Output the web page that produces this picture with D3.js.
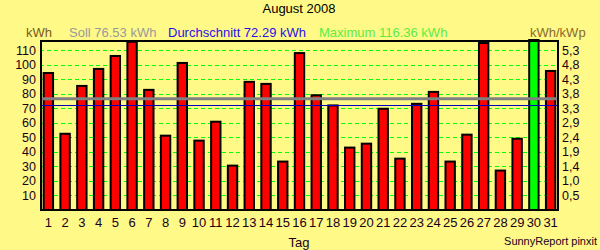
<!DOCTYPE html>
<html>
<head>
<meta charset="utf-8">
<script src="https://cdn.jsdelivr.net/npm/d3@7"></script>
<style>
  html, body { margin: 0; padding: 0; background: #FFF987; }
  svg { display: block; font-family: "Liberation Sans", Arial, sans-serif; }
</style>
</head>
<body>
<div id="chart"></div>
<script>
// Tagesertrag August 2008 (kWh), Tag 30 = grüner Balken
const days = d3.range(1, 32);
const dailyKwh = [94.9, 53.1, 86.0, 97.7, 106.6, 116.36, 83.3, 51.8, 101.8, 48.4,
                  61.4, 31.2, 88.8, 87.4, 34.0, 108.6, 79.6, 72.6, 43.6, 46.3,
                  70.3, 36.0, 73.7, 81.9, 34.0, 52.5, 115.5, 27.8, 49.7, null, 96.3];
const highlightDay = 30;
const leftTicks = [10, 20, 30, 40, 50, 60, 70, 80, 90, 100, 110];
const rightTickLabels = ['0,5', '1,0', '1,4', '1,9', '2,4', '2,9', '3,3', '3,8', '4,3', '4,8', '5,3'];
const sollKwh = 76.53;
const avgKwh = 72.29;
const maxKwh = 116.36;

const W = 600, H = 250;
const M = { top: 40, right: 41, bottom: 40, left: 40 };
const Y_TOP = 116.9;

const svg = d3.select('#chart').append('svg')
  .attr('width', W).attr('height', H);

svg.append('rect').attr('width', W).attr('height', H).attr('fill', '#FFF987');

const x = d3.scaleBand()
  .domain(days)
  .range([M.left, W - M.right])
  .paddingInner(0.32)
  .paddingOuter(0.16);

const y = d3.scaleLinear()
  .domain([0, Y_TOP])
  .range([H - M.bottom, M.top]);

// gridlines
svg.append('g')
  .selectAll('line')
  .data(leftTicks)
  .join('line')
    .attr('x1', M.left).attr('x2', W - M.right)
    .attr('y1', d => Math.round(y(d)) + 0.5)
    .attr('y2', d => Math.round(y(d)) + 0.5)
    .attr('stroke', '#00FF00')
    .attr('stroke-width', 1)
    .attr('stroke-dasharray', '4,3');

// bars
const bw = x.bandwidth();
svg.append('g')
  .selectAll('rect')
  .data(days)
  .join('rect')
    .attr('x', d => x(d) + 1)
    .attr('width', bw - 2)
    .attr('y', (d, i) => d === highlightDay ? y(Y_TOP) : y(dailyKwh[i]) + 1)
    .attr('height', (d, i) => d === highlightDay ? y(0) - y(Y_TOP) : y(0) - y(dailyKwh[i]) - 1)
    .attr('fill', d => d === highlightDay ? '#00FF00' : '#FF0000')
    .attr('stroke', '#000')
    .attr('stroke-width', 2);

// Soll + Durchschnitt
svg.append('line')
  .attr('x1', M.left).attr('x2', W - M.right)
  .attr('y1', y(sollKwh)).attr('y2', y(sollKwh))
  .attr('stroke', '#808080').attr('stroke-width', 3);
svg.append('line')
  .attr('x1', M.left).attr('x2', W - M.right)
  .attr('y1', Math.round(y(avgKwh)) + 0.5).attr('y2', Math.round(y(avgKwh)) + 0.5)
  .attr('stroke', '#0000C0').attr('stroke-width', 1);

// frame
svg.append('rect')
  .attr('x', M.left + 1).attr('y', M.top + 1)
  .attr('width', W - M.left - M.right - 2)
  .attr('height', H - M.top - M.bottom - 1)
  .attr('fill', 'none').attr('stroke', '#000').attr('stroke-width', 2);

// left axis labels
svg.append('g')
  .selectAll('text')
  .data(leftTicks)
  .join('text')
    .attr('x', 36).attr('y', d => y(d))
    .attr('dy', '0.36em')
    .attr('text-anchor', 'end')
    .attr('font-size', 12.5)
    .attr('fill', '#1a001a')
    .text(d => d);

// right axis labels
svg.append('g')
  .selectAll('text')
  .data(leftTicks)
  .join('text')
    .attr('x', 562).attr('y', d => y(d))
    .attr('dy', '0.36em')
    .attr('text-anchor', 'start')
    .attr('font-size', 12.5)
    .attr('fill', '#1a001a')
    .text((d, i) => rightTickLabels[i]);

// x labels
svg.append('g')
  .selectAll('text')
  .data(days)
  .join('text')
    .attr('x', d => x(d) + bw / 2)
    .attr('y', 226.5)
    .attr('text-anchor', 'middle')
    .attr('font-size', 13)
    .attr('fill', '#1a001a')
    .text(d => d);

svg.append('text')
  .attr('x', 299).attr('y', 247)
  .attr('text-anchor', 'middle')
  .attr('font-size', 13)
  .attr('fill', '#1a001a')
  .text('Tag');

svg.append('text')
  .attr('x', 597).attr('y', 244.5)
  .attr('text-anchor', 'end')
  .attr('font-size', 11)
  .attr('fill', '#1a001a')
  .text('SunnyReport pinxit');

// title + legend row
svg.append('text')
  .attr('x', 299).attr('y', 13)
  .attr('text-anchor', 'middle')
  .attr('font-size', 13)
  .attr('fill', '#000')
  .text('August 2008');

const legend = [
  { x: 26,  text: 'kWh', color: '#7a5a1a' },
  { x: 69,  text: `Soll ${sollKwh} kWh`, color: '#999999' },
  { x: 168, text: `Durchschnitt ${avgKwh} kWh`, color: '#2a10e8' },
  { x: 319, text: `Maximum ${maxKwh} kWh`, color: '#5aee44' },
  { x: 530, text: 'kWh/kWp', color: '#8a6a2a' }
];
svg.append('g')
  .selectAll('text')
  .data(legend)
  .join('text')
    .attr('x', d => d.x).attr('y', 37)
    .attr('font-size', 13)
    .attr('fill', d => d.color)
    .text(d => d.text);
</script>
</body>
</html>
